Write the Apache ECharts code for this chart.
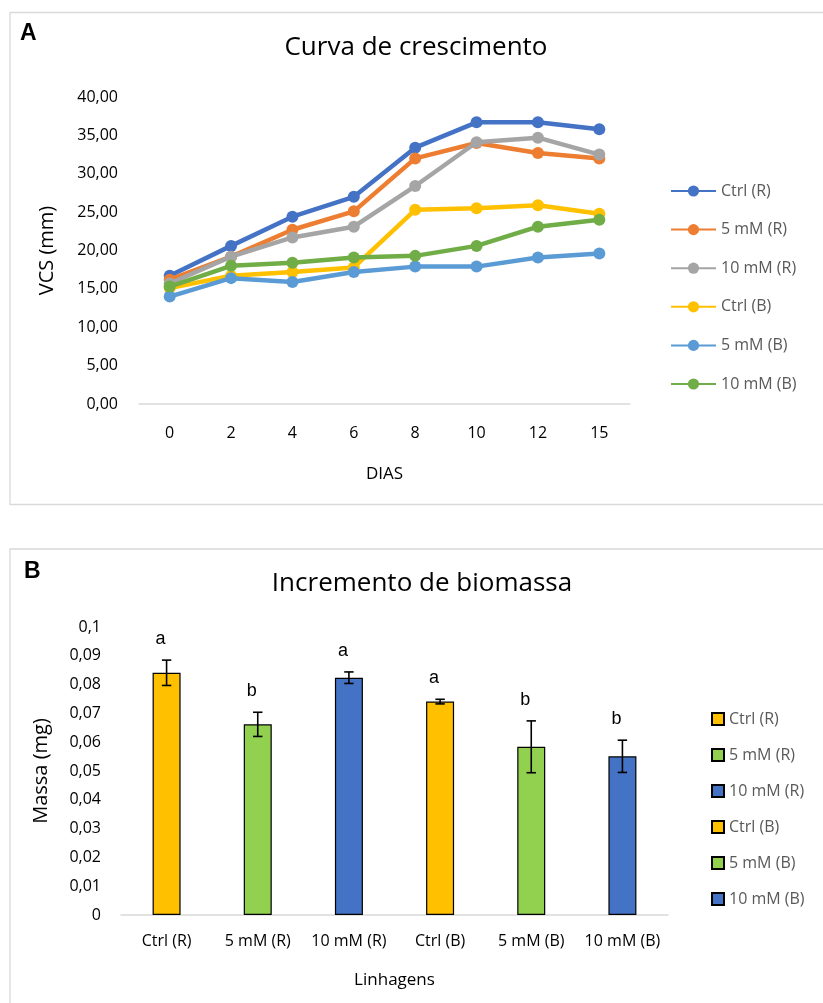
<!DOCTYPE html>
<html>
<head>
<meta charset="utf-8">
<script src="https://cdn.jsdelivr.net/npm/echarts@6/dist/echarts.min.js"></script>
<style>
html,body{margin:0;padding:0;background:#fff;}
#wrap{position:relative;width:823px;height:1003px;overflow:hidden;}
#chartA{position:absolute;left:0;top:0;width:823px;height:520px;}
#chartB{position:absolute;left:0;top:520px;width:823px;height:483px;}
</style>
</head>
<body>
<div id="wrap"><div id="chartA"></div><div id="chartB"></div></div>
<script>
// ---- Panel A data ----
const days = ['0', '2', '4', '6', '8', '10', '12', '15'];
const ctrlR = [16.7, 20.6, 24.4, 27.0, 33.4, 36.7, 36.7, 35.8];
const mm5R  = [16.2, 19.2, 22.7, 25.1, 32.0, 34.0, 32.7, 32.0];
const mm10R = [15.7, 19.2, 21.7, 23.1, 28.4, 34.1, 34.7, 32.5];
const ctrlB = [15.1, 16.7, 17.2, 17.8, 25.3, 25.5, 25.9, 24.8];
const mm5B  = [14.0, 16.4, 15.9, 17.2, 17.9, 17.9, 19.1, 19.6];
const mm10B = [15.3, 18.0, 18.4, 19.1, 19.3, 20.6, 23.1, 24.0];
const lineNames = ['Ctrl (R)', '5 mM (R)', '10 mM (R)', 'Ctrl (B)', '5 mM (B)', '10 mM (B)'];

// ---- Panel B data ----
const lineages = ['Ctrl (R)', '5 mM (R)', '10 mM (R)', 'Ctrl (B)', '5 mM (B)', '10 mM (B)'];
const massValues = [0.0841, 0.0662, 0.0824, 0.0741, 0.0584, 0.0551];
const massErrors = [0.0044, 0.0042, 0.0020, 0.0008, 0.0090, 0.0056];
const letters = ['a', 'b', 'a', 'a', 'b', 'b'];

const FONT = 'Open Sans';
const lineColors = ['#4472C4', '#ED7D31', '#A5A5A5', '#FFC000', '#5B9BD5', '#70AD47'];
const barColors = ['#FFC000', '#92D050', '#4472C4', '#FFC000', '#92D050', '#4472C4'];

const chartA = echarts.init(document.getElementById('chartA'), null, {renderer: 'canvas'});
const lineData = [ctrlR, mm5R, mm10R, ctrlB, mm5B, mm10B];
chartA.setOption({
  animation: false,
  textStyle: {fontFamily: FONT},
  graphic: [
    {type: 'rect', shape: {x: 10, y: 12.5, width: 830, height: 492}, style: {fill: 'none', stroke: '#D9D9D9', lineWidth: 1.3}, silent: true},
    {type: 'text', x: 20, y: 34, style: {text: 'A', font: 'bold 23px "Liberation Sans", Arial', fill: '#000', textVerticalAlign: 'middle'}},
    {type: 'text', x: 416, y: 48, style: {text: 'Curva de crescimento', font: '26px "Open Sans"', fill: '#000', textAlign: 'center', textVerticalAlign: 'middle'}}
  ],
  legend: {
    orient: 'vertical', left: 665, top: 178,
    itemWidth: 45, itemHeight: 14, itemGap: 22.6,
    textStyle: {fontFamily: FONT, fontSize: 16, color: '#595959'},
    data: lineNames
  },
  grid: {left: 139, top: 97, width: 491, height: 307},
  xAxis: {
    type: 'category', data: days, boundaryGap: true,
    name: 'DIAS', nameLocation: 'middle', nameGap: 62,
    nameTextStyle: {fontFamily: FONT, fontSize: 17, color: '#000'},
    axisLine: {lineStyle: {color: '#D9D9D9', width: 1.5}},
    axisTick: {show: false},
    axisLabel: {fontFamily: FONT, fontSize: 16, color: '#000', margin: 21}
  },
  yAxis: {
    type: 'value', min: 0, max: 40, interval: 5,
    name: 'VCS (mm)', nameLocation: 'middle', nameGap: 82,
    nameTextStyle: {fontFamily: FONT, fontSize: 20, color: '#000'},
    axisLine: {show: false}, axisTick: {show: false}, splitLine: {show: false},
    axisLabel: {fontFamily: FONT, fontSize: 16, color: '#000', margin: 21,
      formatter: v => v.toFixed(2).replace('.', ',')}
  },
  series: lineData.map((d, i) => ({
    name: lineNames[i], type: 'line', data: d,
    symbol: 'circle', symbolSize: 12,
    lineStyle: {width: 4.5, color: lineColors[i]},
    itemStyle: {color: lineColors[i]},
    z: 2 + i
  }))
});

const chartB = echarts.init(document.getElementById('chartB'), null, {renderer: 'canvas'});
const barSeries = lineages.map((name, i) => ({
  name: name, type: 'bar', stack: 'all', barWidth: 28,
  data: lineages.map((_, j) => j === i ? massValues[i] : '-'),
  itemStyle: {color: barColors[i], borderColor: '#000', borderWidth: 1.2},
  z: 2
}));
chartB.setOption({
  animation: false,
  textStyle: {fontFamily: FONT},
  graphic: [
    {type: 'rect', shape: {x: 10, y: 29, width: 830, height: 500}, style: {fill: 'none', stroke: '#D9D9D9', lineWidth: 1.3}, silent: true},
    {type: 'text', x: 24, y: 52, style: {text: 'B', font: 'bold 23px "Liberation Sans", Arial', fill: '#000', textVerticalAlign: 'middle'}},
    {type: 'text', x: 422, y: 64, style: {text: 'Incremento de biomassa', font: '26px "Open Sans"', fill: '#000', textAlign: 'center', textVerticalAlign: 'middle'}}
  ],
  legend: {
    orient: 'vertical', left: 706, top: 186,
    itemWidth: 12, itemHeight: 12, itemGap: 20,
    icon: 'rect',
    textStyle: {fontFamily: FONT, fontSize: 16, color: '#595959'},
    data: lineages
  },
  grid: {left: 121, top: 107, width: 547, height: 288},
  xAxis: {
    type: 'category', data: lineages, boundaryGap: true,
    name: 'Linhagens', nameLocation: 'middle', nameGap: 57,
    nameTextStyle: {fontFamily: FONT, fontSize: 17, color: '#000'},
    axisLine: {lineStyle: {color: '#D9D9D9', width: 1.5}},
    axisTick: {show: false},
    axisLabel: {fontFamily: FONT, fontSize: 16, color: '#000', margin: 18, interval: 0}
  },
  yAxis: {
    type: 'value', min: 0, max: 0.1, interval: 0.01,
    name: 'Massa (mg)', nameLocation: 'middle', nameGap: 70,
    nameTextStyle: {fontFamily: FONT, fontSize: 20, color: '#000'},
    axisLine: {show: false}, axisTick: {show: false}, splitLine: {show: false},
    axisLabel: {fontFamily: FONT, fontSize: 16, color: '#000', margin: 20,
      formatter: v => {
        const r = Math.round(v * 100) / 100;
        if (r === 0) return '0';
        if (r >= 0.1) return '0,1';
        return r.toFixed(2).replace('.', ',');
      }}
  },
  series: barSeries.concat([{
    type: 'custom', name: 'err', z: 10, silent: true,
    data: massValues.map((v, i) => [i, v, massErrors[i]]),
    renderItem: (params, api) => {
      const x = api.value(0), v = api.value(1), e = api.value(2);
      const top = api.coord([x, v + e]);
      const bot = api.coord([x, v - e]);
      const cx = top[0], hw = 4.7;
      const st = {stroke: '#000', lineWidth: 1.6};
      return {type: 'group', children: [
        {type: 'line', shape: {x1: cx, y1: top[1], x2: cx, y2: bot[1]}, style: st},
        {type: 'line', shape: {x1: cx - hw, y1: top[1], x2: cx + hw, y2: top[1]}, style: st},
        {type: 'line', shape: {x1: cx - hw, y1: bot[1], x2: cx + hw, y2: bot[1]}, style: st},
        {type: 'text', x: cx - 6, y: top[1] - 21, style: {text: letters[params.dataIndex], font: '18px "Liberation Sans", Arial', fill: '#000', textAlign: 'center', textVerticalAlign: 'middle'}}
      ]};
    }
  }])
});
</script>
</body>
</html>
